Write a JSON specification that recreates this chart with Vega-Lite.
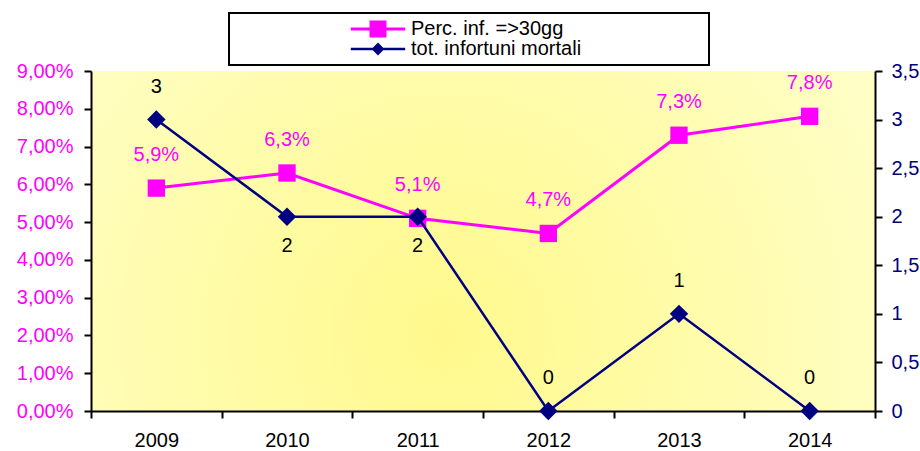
{
  "$schema": "https://vega.github.io/schema/vega-lite/v6.json",
  "autosize": {"type": "none"},
  "width": 784,
  "height": 340,
  "padding": {"left": 91, "top": 71, "right": 45, "bottom": 40},
  "background": "white",
  "data": {
    "values": [
      {"year": "2009", "perc": 0.059, "mort": 3},
      {"year": "2010", "perc": 0.063, "mort": 2},
      {"year": "2011", "perc": 0.051, "mort": 2},
      {"year": "2012", "perc": 0.047, "mort": 0},
      {"year": "2013", "perc": 0.073, "mort": 1},
      {"year": "2014", "perc": 0.078, "mort": 0}
    ]
  },
  "encoding": {
    "x": {
      "field": "year",
      "type": "ordinal",
      "scale": {"type": "band", "paddingInner": 0, "paddingOuter": 0},
      "axis": {"title": null, "labelAngle": 0, "tickBand": "extent", "labelColor": "black", "labelPadding": 12}
    }
  },
  "layer": [
    {
      "encoding": {
        "y": {
          "field": "perc",
          "type": "quantitative",
          "scale": {"domain": [0, 0.09], "nice": false, "zero": true},
          "axis": {
            "orient": "left",
            "title": null,
            "values": [0, 0.01, 0.02, 0.03, 0.04, 0.05, 0.06, 0.07, 0.08, 0.09],
            "format": ".2%",
            "labelColor": "#FF00FF",
            "labelPadding": 11,
            "grid": false
          }
        }
      },
      "layer": [
        {"mark": {"type": "line", "color": "#FF00FF", "strokeWidth": 3}},
        {"mark": {"type": "point", "shape": "square", "filled": true, "opacity": 1, "color": "#FF00FF", "size": 300}},
        {
          "mark": {"type": "text", "color": "#FF00FF", "fontSize": 20, "font": "Liberation Sans", "baseline": "middle", "dy": -33},
          "encoding": {"text": {"field": "perc", "format": ".1%"}}
        },
        {
          "transform": [{"filter": "false"}],
          "mark": {"type": "point", "filled": true, "opacity": 1},
          "encoding": {
            "color": {
              "field": "series",
              "type": "nominal",
              "scale": {"domain": ["Perc. inf. =>30gg", "tot. infortuni mortali"], "range": ["#FF00FF", "#000080"]},
              "legend": {"title": "MMMMMMM"}
            },
            "shape": {
              "field": "series",
              "type": "nominal",
              "scale": {
                "domain": ["Perc. inf. =>30gg", "tot. infortuni mortali"],
                "range": [
                  "M-3.2,-0.18H-1V-1H1V-0.18H3.2V0.18H1V1H-1V0.18H-3.2Z",
                  "M-3.2,-0.15H-0.61L0,-0.76L0.61,-0.15H3.2V0.15H0.61L0,0.76L-0.61,0.15H-3.2Z"
                ]
              },
              "legend": {"title": "MMMMMMM"}
            }
          }
        }
      ]
    },
    {
      "encoding": {
        "y": {
          "field": "mort",
          "type": "quantitative",
          "scale": {"domain": [0, 3.5], "nice": false},
          "axis": {
            "orient": "right",
            "title": null,
            "values": [0, 0.5, 1, 1.5, 2, 2.5, 3, 3.5],
            "format": ".2~f",
            "labelColor": "#000080",
            "labelPadding": 9,
            "grid": false
          }
        }
      },
      "layer": [
        {"mark": {"type": "line", "color": "#000080", "strokeWidth": 2.5}},
        {"mark": {"type": "point", "shape": "diamond", "filled": true, "opacity": 1, "color": "#000080", "size": 340}},
        {
          "transform": [{"filter": "datum.mort != 2"}],
          "mark": {"type": "text", "color": "black", "fontSize": 20, "font": "Liberation Sans", "baseline": "middle", "dy": -33},
          "encoding": {"text": {"field": "mort", "format": "d"}}
        },
        {
          "transform": [{"filter": "datum.mort == 2"}],
          "mark": {"type": "text", "color": "black", "fontSize": 20, "font": "Liberation Sans", "baseline": "middle", "dy": 29},
          "encoding": {"text": {"field": "mort", "format": "d"}}
        }
      ]
    }
  ],
  "resolve": {"scale": {"y": "independent"}},
  "config": {
    "locale": {"number": {"decimal": ",", "thousands": ".", "grouping": [3], "currency": ["", " €"]}},
    "font": "Liberation Sans",
    "view": {
      "stroke": null,
      "fill": {
        "gradient": "radial",
        "x1": 0.45, "y1": 0.62, "r1": 0,
        "x2": 0.45, "y2": 0.62, "r2": 0.75,
        "stops": [{"offset": 0, "color": "#FFF98C"}, {"offset": 1, "color": "#FFFFD2"}]
      }
    },
    "axis": {
      "labelFont": "Liberation Sans",
      "labelFontSize": 20,
      "domainColor": "black",
      "domainWidth": 2,
      "tickColor": "black",
      "tickWidth": 2,
      "tickSize": 7
    },
    "legend": {
      "orient": "none",
      "legendX": 138,
      "legendY": -58,
      "fillColor": "white",
      "strokeColor": "black",
      "strokeWidth": 2,
      "padding": 6,
      "symbolOffset": 133,
      "labelOffset": 23,
      "labelFont": "Liberation Sans",
      "labelFontSize": 20,
      "labelColor": "black",
      "labelLimit": 800,
      "symbolSize": 289,
      "symbolStrokeWidth": 0,
      "rowPadding": -6,
      "titleOrient": "right",
      "titleFont": "Liberation Sans",
      "titleFontSize": 20,
      "titleFontWeight": "normal",
      "titleOpacity": 0,
      "titlePadding": 5
    }
  }
}
